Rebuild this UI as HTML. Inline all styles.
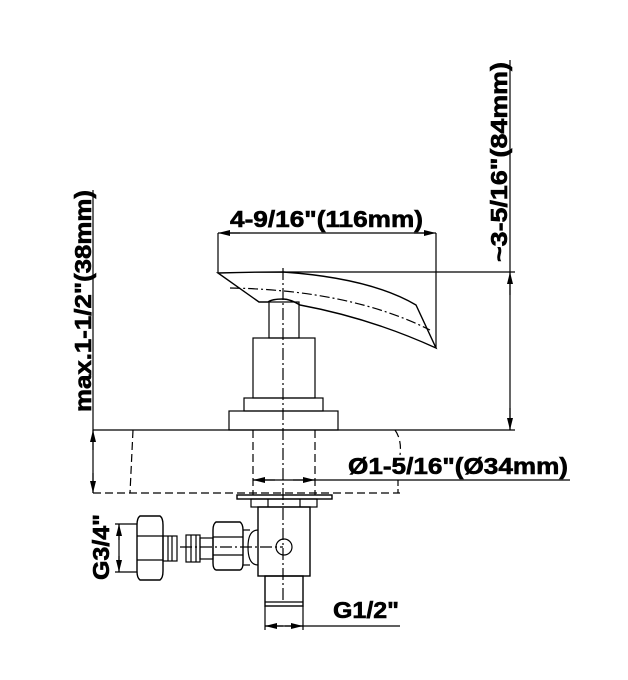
<!DOCTYPE html>
<html><head><meta charset="utf-8"><style>
html,body{margin:0;padding:0;background:#fff;}
svg{display:block;}
text{font-family:"Liberation Sans",Arial,sans-serif;font-weight:bold;fill:#000;stroke:#000;stroke-width:0.6;}
</style></head><body>
<svg width="628" height="680" viewBox="0 0 628 680" xmlns="http://www.w3.org/2000/svg">
<defs>
<marker id="a" markerWidth="12" markerHeight="6" refX="12" refY="3" orient="auto" markerUnits="userSpaceOnUse"><path d="M0,0 L12,3 L0,6 Z" fill="#000"/></marker>
</defs>
<g stroke="#000" fill="none" stroke-width="1.2">
<line x1="218" y1="233" x2="218" y2="273"/>
<line x1="436" y1="233" x2="436" y2="348"/>
<line x1="230" y1="233" x2="424" y2="233"/>
<line x1="240" y1="233" x2="218" y2="233" marker-end="url(#a)"/>
<line x1="414" y1="233" x2="436" y2="233" marker-end="url(#a)"/>
<line x1="283" y1="272" x2="515" y2="272"/>
<path d="M218,273 Q250,272 283,272 Q370,278 416,305 L436,348 Q370,318 300,305 Q290,299 283,299 Q272,299 268,302 L259,302 Z" stroke-width="1.4"/>
<path d="M230,288 Q350,290 430,330" stroke-dasharray="10,3,2,3"/>
<rect x="269" y="302" width="30" height="36"/>
<rect x="253" y="338" width="62" height="60"/>
<rect x="244" y="398" width="79" height="13"/>
<rect x="229" y="411" width="109" height="19"/>
<line x1="283" y1="268" x2="283" y2="600" stroke-dasharray="12,3,2,3"/>
<line x1="93" y1="430" x2="515" y2="430"/>
<line x1="93" y1="493" x2="400" y2="493" stroke-dasharray="8,4"/>
<line x1="133" y1="430" x2="130" y2="493" stroke-dasharray="8,4"/>
<path d="M395,430 Q402,440 400,455" stroke-dasharray="8,4"/>
<path d="M398,480 L398,493" stroke-dasharray="6,3"/>
<line x1="253" y1="430" x2="253" y2="495" stroke-dasharray="8,4"/>
<line x1="315" y1="430" x2="315" y2="495" stroke-dasharray="8,4"/>
<line x1="253" y1="480" x2="570" y2="480"/>
<line x1="275" y1="480" x2="253" y2="480" marker-end="url(#a)"/>
<line x1="293" y1="480" x2="315" y2="480" marker-end="url(#a)"/>
<line x1="93" y1="190" x2="93" y2="493"/>
<line x1="93" y1="450" x2="93" y2="430" marker-end="url(#a)"/>
<line x1="93" y1="473" x2="93" y2="493" marker-end="url(#a)"/>
<line x1="510" y1="60" x2="510" y2="430"/>
<line x1="510" y1="295" x2="510" y2="272" marker-end="url(#a)"/>
<line x1="510" y1="408" x2="510" y2="430" marker-end="url(#a)"/>
<rect x="237" y="495" width="95" height="4" stroke-width="1.4"/>
<rect x="251" y="499" width="66" height="8"/>
<line x1="268" y1="499" x2="268" y2="507"/><line x1="300" y1="499" x2="300" y2="507"/>
<rect x="258" y="507" width="52" height="69" stroke-width="1.4"/>
<circle cx="284" cy="547" r="8"/>
<path d="M258,530 Q248,530 248,547 Q248,565 258,565"/>
<rect x="265" y="576" width="38" height="30" stroke-width="1.4"/>
<line x1="265" y1="602" x2="303" y2="602"/>
<line x1="265" y1="606" x2="265" y2="630"/>
<line x1="303" y1="606" x2="303" y2="630"/>
<line x1="265" y1="626" x2="400" y2="626"/>
<line x1="283" y1="626" x2="265" y2="626" marker-end="url(#a)"/>
<line x1="285" y1="626" x2="303" y2="626" marker-end="url(#a)"/>
<path d="M140,516 L160,516 Q163,518 163,525 L163,571 Q163,578 160,580 L140,580 Q137,578 137,571 L137,525 Q137,518 140,516 Z" stroke-width="1.4"/>
<line x1="137" y1="536" x2="163" y2="536"/><line x1="137" y1="560" x2="163" y2="560"/>
<rect x="163" y="536" width="14" height="25"/>
<line x1="168" y1="536" x2="168" y2="561"/><line x1="172" y1="536" x2="172" y2="561"/>
<rect x="186" y="535" width="14" height="27"/>
<line x1="191" y1="535" x2="191" y2="562"/><line x1="196" y1="535" x2="196" y2="562"/>
<rect x="200" y="538" width="13" height="21"/>
<path d="M216,522 L240,522 Q243,524 243,530 L243,563 Q243,569 240,570 L216,570 Q213,569 213,563 L213,530 Q213,524 216,522 Z" stroke-width="1.4"/>
<line x1="213" y1="537" x2="243" y2="537"/><line x1="213" y1="555" x2="243" y2="555"/>
<line x1="243" y1="530" x2="250" y2="530"/><line x1="243" y1="565" x2="250" y2="565"/>
<line x1="180" y1="547" x2="283" y2="547" stroke-dasharray="12,3,2,3"/>
<line x1="115" y1="524" x2="137" y2="524"/>
<line x1="115" y1="572" x2="137" y2="572"/>
<line x1="119" y1="524" x2="119" y2="572"/>
<line x1="119" y1="540" x2="119" y2="524" marker-end="url(#a)"/>
<line x1="119" y1="556" x2="119" y2="572" marker-end="url(#a)"/>
</g>
<text x="230" y="227" font-size="23" textLength="193" lengthAdjust="spacingAndGlyphs">4-9/16"(116mm)</text>
<text x="348" y="474" font-size="23" textLength="220" lengthAdjust="spacingAndGlyphs">Ø1-5/16"(Ø34mm)</text>
<text x="333" y="618" font-size="23" textLength="66" lengthAdjust="spacingAndGlyphs">G1/2"</text>
<text transform="translate(91,412) rotate(-90)" font-size="23" textLength="222" lengthAdjust="spacingAndGlyphs">max.1-1/2"(38mm)</text>
<text transform="translate(507,262) rotate(-90)" font-size="23" textLength="200" lengthAdjust="spacingAndGlyphs">~3-5/16"(84mm)</text>
<text transform="translate(109,580) rotate(-90)" font-size="23" textLength="66" lengthAdjust="spacingAndGlyphs">G3/4"</text>
</svg>
</body></html>
